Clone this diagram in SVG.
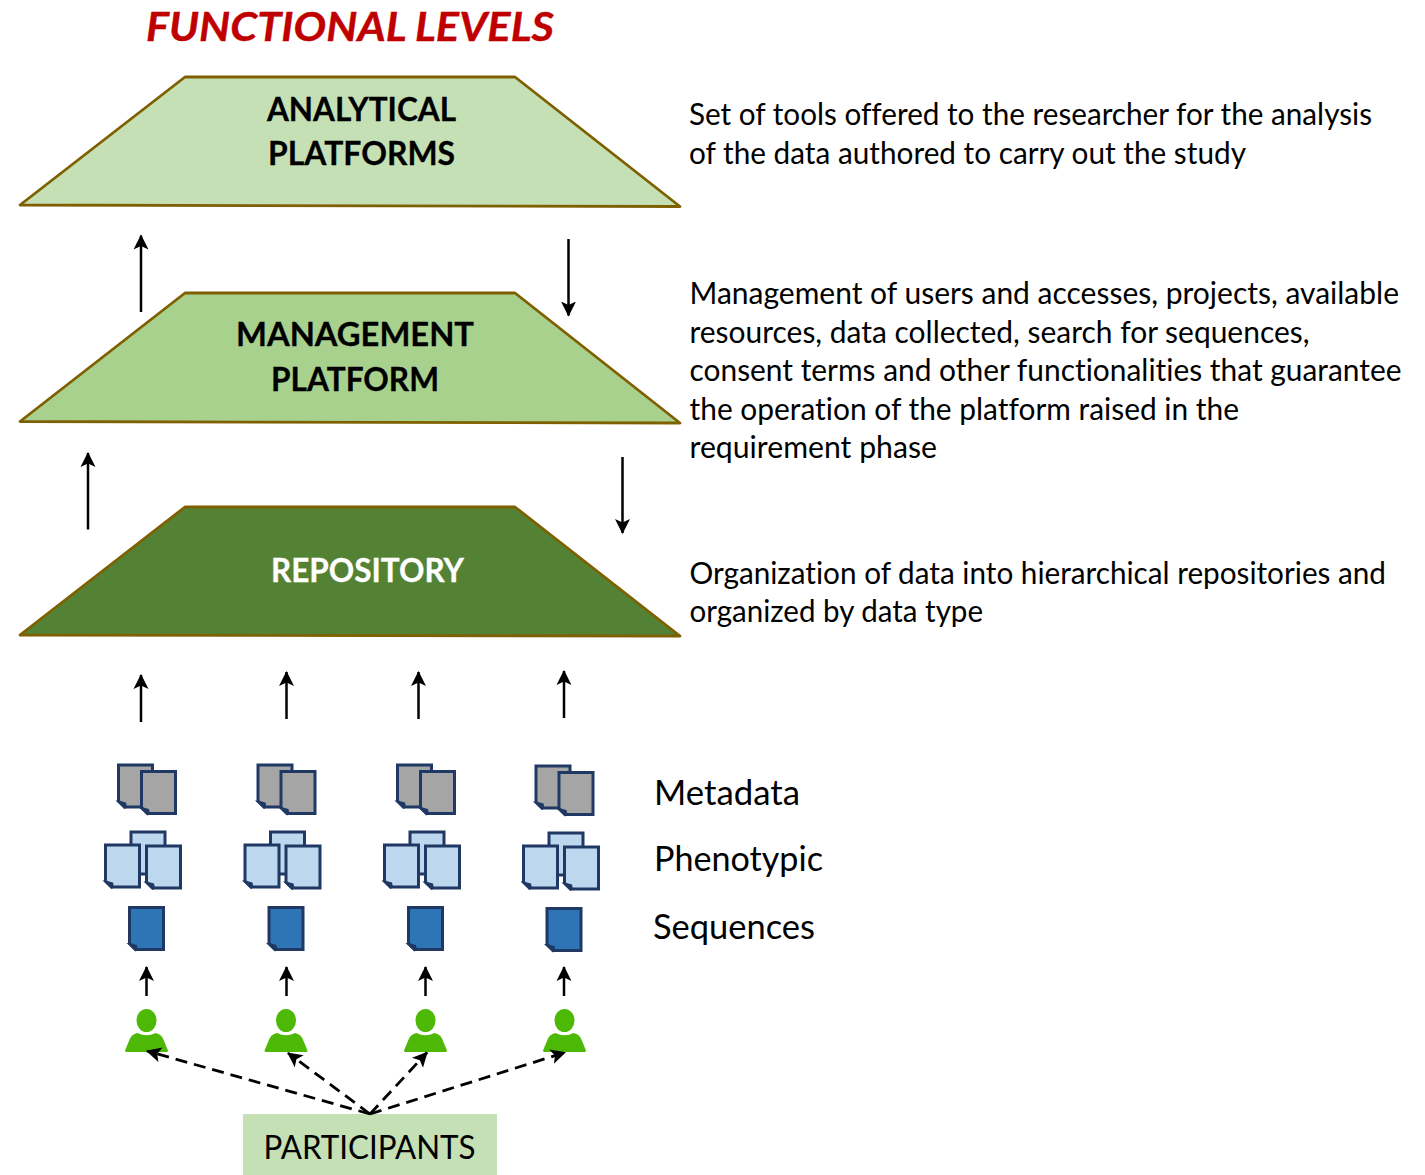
<svg xmlns="http://www.w3.org/2000/svg" width="1425" height="1175" viewBox="0 0 1425 1175">
<style>
text{font-family:"Lato","Open Sans","Liberation Sans",sans-serif;fill:#000;font-variant-ligatures:none}
.trap{stroke:#7F6000;stroke-width:2.8;stroke-linejoin:round}
.head{font-size:33px;font-weight:700;stroke:#000;stroke-width:.3}
.desc{font-size:30px}
.label{font-size:34px}
.conn{stroke:#000;stroke-width:2.5;fill:none;marker-end:url(#ah)}
.dash{stroke-width:2.8;stroke-dasharray:12 7}
.doc{stroke:#1F3864;stroke-width:3}
.fold{fill:#1F3864}
.g{fill:#A5A5A5}.l{fill:#BDD7EE}.d{fill:#2E75B6}
.person{fill:#4EB806}
</style>
<defs>
<marker id="ah" markerUnits="userSpaceOnUse" markerWidth="18" markerHeight="18" refX="14" refY="8" orient="auto">
<path d="M0 0.500L15 8L0 15.500L3.500 8Z" fill="#000"/>
</marker>
<g id="doc"><path d="M0 0H34V42H6L0 36Z" class="doc"/><path class="fold" d="M-3 35.500L6 44L8.500 42.500L7.500 37.500L0 35.500Z"/></g>
<g id="man"><ellipse cx="0" cy="0" rx="10" ry="11.500"/><path d="M-21.500 30Q-21.500 31.500 -20 31.500H20Q21.500 31.500 21.500 30L16.500 18Q15 14.500 12 13.500L9 12.500Q0 17 -9 12.500L-12 13.500Q-15 14.500 -16.500 18Z"/></g>
</defs>
<text x="146" y="41" textLength="408" lengthAdjust="spacingAndGlyphs" style="font-size:41px;font-weight:700;font-style:italic;fill:#C00000;stroke:#C00000;stroke-width:.4">FUNCTIONAL LEVELS</text>
<g id="level-analytical">
<path class="trap" fill="#C5E0B4" d="M20 205L185 77H515L680 206.500Z"/>
<text class="head" x="267" y="121" textLength="189" lengthAdjust="spacingAndGlyphs">ANALYTICAL</text>
<text class="head" x="268" y="165" textLength="187" lengthAdjust="spacingAndGlyphs">PLATFORMS</text>
</g>
<g id="level-management">
<path class="trap" fill="#A9D18E" d="M20 421.500L185 293H515L680 423Z"/>
<text class="head" x="236" y="346" textLength="238" lengthAdjust="spacingAndGlyphs">MANAGEMENT</text>
<text class="head" x="271" y="391" textLength="168" lengthAdjust="spacingAndGlyphs">PLATFORM</text>
</g>
<g id="level-repository">
<path class="trap" fill="#548235" d="M20 635L185 507H515L680 636Z"/>
<text class="head" x="271" y="582" textLength="193" lengthAdjust="spacingAndGlyphs" style="fill:#fff;stroke:#fff">REPOSITORY</text>
</g>
<g id="desc-analytical">
<text class="desc" x="689" y="125" textLength="683" lengthAdjust="spacingAndGlyphs">Set of tools offered to the researcher for the analysis</text>
<text class="desc" x="689" y="164" textLength="557" lengthAdjust="spacingAndGlyphs">of the data authored to carry out the study</text>
</g>
<g id="desc-management">
<text class="desc" x="689.500" y="304" textLength="709.500" lengthAdjust="spacingAndGlyphs">Management of users and accesses, projects, available</text>
<text class="desc" x="689.500" y="343" textLength="620" lengthAdjust="spacingAndGlyphs">resources, data collected, search for sequences,</text>
<text class="desc" x="689.500" y="381" textLength="712" lengthAdjust="spacingAndGlyphs">consent terms and other functionalities that guarantee</text>
<text class="desc" x="689.500" y="420" textLength="549.500" lengthAdjust="spacingAndGlyphs">the operation of the platform raised in the</text>
<text class="desc" x="689.500" y="458" textLength="247.500" lengthAdjust="spacingAndGlyphs">requirement phase</text>
</g>
<g id="desc-repository">
<text class="desc" x="689.500" y="584" textLength="696.500" lengthAdjust="spacingAndGlyphs">Organization of data into hierarchical repositories and</text>
<text class="desc" x="689.500" y="622" textLength="293.500" lengthAdjust="spacingAndGlyphs">organized by data type</text>
</g>
<g id="labels">
<text class="label" x="654" y="805" textLength="146" lengthAdjust="spacingAndGlyphs">Metadata</text>
<text class="label" x="654" y="871" textLength="169" lengthAdjust="spacingAndGlyphs">Phenotypic</text>
<text class="label" x="653" y="939" textLength="162" lengthAdjust="spacingAndGlyphs">Sequences</text>
</g>
<g id="col-1">
<use href="#doc" x="118.500" y="765" class="g"/><use href="#doc" x="141.500" y="771.500" class="g"/>
<use href="#doc" x="131" y="832" class="l"/><use href="#doc" x="105.500" y="845" class="l"/><use href="#doc" x="146.500" y="846" class="l"/>
<use href="#doc" x="129.500" y="907.500" class="d"/>
<use href="#man" x="146.500" y="1020.500" class="person"/>
</g>
<g id="col-2">
<use href="#doc" x="258" y="765" class="g"/><use href="#doc" x="281" y="771.500" class="g"/>
<use href="#doc" x="270.500" y="832" class="l"/><use href="#doc" x="245" y="845" class="l"/><use href="#doc" x="286" y="846" class="l"/>
<use href="#doc" x="269" y="907.500" class="d"/>
<use href="#man" x="286" y="1020.500" class="person"/>
</g>
<g id="col-3">
<use href="#doc" x="397.500" y="765" class="g"/><use href="#doc" x="420.500" y="771.500" class="g"/>
<use href="#doc" x="410" y="832" class="l"/><use href="#doc" x="384.500" y="845" class="l"/><use href="#doc" x="425.500" y="846" class="l"/>
<use href="#doc" x="408.500" y="907.500" class="d"/>
<use href="#man" x="425.500" y="1020.500" class="person"/>
</g>
<g id="col-4">
<use href="#doc" x="536" y="766" class="g"/><use href="#doc" x="559" y="772.500" class="g"/>
<use href="#doc" x="549" y="833" class="l"/><use href="#doc" x="523.500" y="846" class="l"/><use href="#doc" x="564.500" y="847" class="l"/>
<use href="#doc" x="547" y="908.500" class="d"/>
<use href="#man" x="564.500" y="1020.500" class="person"/>
</g>
<g id="participants">
<rect x="243" y="1114" width="254" height="61" fill="#C5E0B4"/>
<text x="263.500" y="1159" textLength="212" lengthAdjust="spacingAndGlyphs" style="font-size:33px">PARTICIPANTS</text>
</g>
<g id="connectors">
<path class="conn" d="M141 312V235.500"/>
<path class="conn" d="M568.500 239V315.500"/>
<path class="conn" d="M88 529.500V453"/>
<path class="conn" d="M622.500 457V533"/>
<path class="conn" d="M141 722V675"/>
<path class="conn" d="M286.500 719V672"/>
<path class="conn" d="M418.500 719V672"/>
<path class="conn" d="M564 718V671"/>
<path class="conn" d="M146.500 996V967"/>
<path class="conn" d="M286.500 996V967"/>
<path class="conn" d="M425.500 996V967"/>
<path class="conn" d="M564 996V967"/>
<path class="conn dash" d="M370 1114L147 1051"/>
<path class="conn dash" d="M370 1114L288 1053"/>
<path class="conn dash" d="M370 1114L427 1052.500"/>
<path class="conn dash" d="M370 1114L565 1052.500"/>
</g>
</svg>
